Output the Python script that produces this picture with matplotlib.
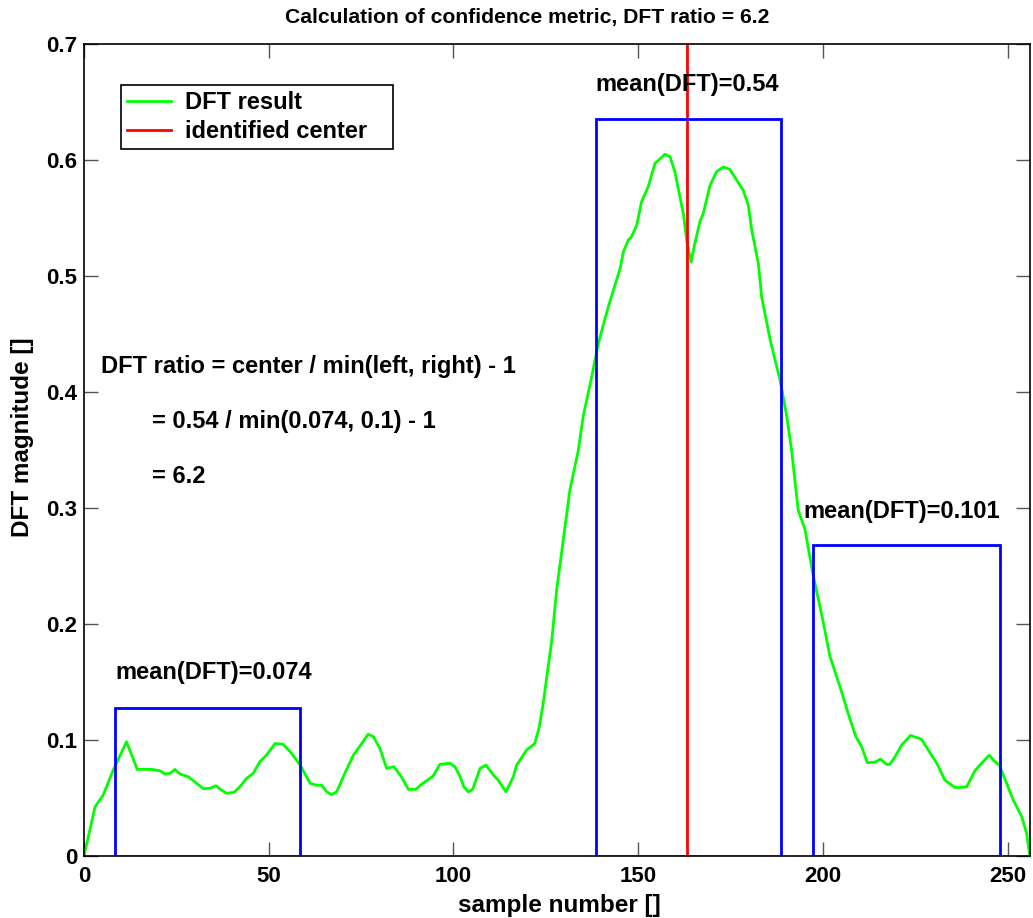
import matplotlib
matplotlib.use('Agg')
import matplotlib.pyplot as plt
from matplotlib.patches import Rectangle

plt.rcParams['font.family'] = ['Liberation Sans', 'DejaVu Sans']
plt.rcParams['font.weight'] = 'bold'

# DFT magnitude
sample = [0, 3.0, 5.2, 7.9, 11.5, 13.3, 14.4, 18.3, 20.6, 21.9, 23.3, 24.6, 26.0, 28.2, 30.0,
          32.3, 34.1, 35.7, 36.8, 38.6, 40.6, 42.2, 44.0, 45.8, 47.6, 49.4, 51.7, 53.9, 56.2,
          58.5, 61.2, 63.0, 64.3, 65.7, 67.0, 68.4, 70.6, 72.9, 74.7, 76.9, 78.3, 80.1, 81.9,
          83.9, 85.9, 87.8, 89.8, 91.4, 94.5, 96.3, 99.0, 100.4, 101.8, 102.8, 104.0, 105.2,
          107.2, 108.8, 110.8, 112.1, 114.2, 116.2, 117.1, 119.8, 122.0, 123.2, 124.3, 126.6,
          127.9, 131.5, 133.8, 135.1, 137.4, 139.2, 141.9, 145.1, 146.0, 147.3, 148.2, 149.6,
          150.9, 152.7, 154.5, 155.9, 157.2, 158.6, 159.9, 162.2, 163.1, 164.3, 165.3, 166.7,
          167.6, 169.4, 171.2, 173.0, 174.8, 176.6, 178.4, 179.8, 180.7, 182.5, 183.4, 185.7,
          188.4, 190.2, 191.5, 193.3, 195.1, 197.4, 199.6, 201.9, 204.9, 206.8, 208.9, 210.5,
          212.0, 214.1, 215.6, 217.2, 218.1, 219.5, 221.3, 223.7, 225.4, 226.7, 228.5, 230.8,
          233.0, 235.7, 238.9, 241.1, 242.9, 245.0, 246.1, 247.7, 249.7, 251.5, 253.8, 255.1,
          256.0]
dft = [0, 0.0425, 0.0526, 0.074, 0.0985, 0.084, 0.0747, 0.0747, 0.0735, 0.0707, 0.0713,
       0.0747, 0.0707, 0.0684, 0.064, 0.058, 0.0584, 0.0606, 0.0578, 0.054, 0.055, 0.0597,
       0.067, 0.0713, 0.0813, 0.087, 0.097, 0.0963, 0.0885, 0.0784, 0.0627, 0.061, 0.0612,
       0.0554, 0.053, 0.0554, 0.0713, 0.087, 0.0948, 0.105, 0.103, 0.0928, 0.0756, 0.077,
       0.0684, 0.0575, 0.0575, 0.062, 0.069, 0.079, 0.080, 0.077, 0.0684, 0.0597, 0.0554,
       0.0575, 0.0756, 0.0784, 0.0698, 0.0655, 0.0554, 0.0684, 0.0784, 0.0914, 0.097, 0.111,
       0.132, 0.186, 0.229, 0.3155, 0.35, 0.379, 0.413, 0.442, 0.4735, 0.5066, 0.521, 0.531,
       0.534, 0.544, 0.564, 0.577, 0.597, 0.601, 0.605, 0.603, 0.590, 0.554, 0.531, 0.512,
       0.528, 0.547, 0.554, 0.578, 0.590, 0.594, 0.592, 0.583, 0.574, 0.561, 0.540, 0.511,
       0.482, 0.445, 0.410, 0.379, 0.350, 0.298, 0.282, 0.241, 0.209, 0.172, 0.143, 0.123,
       0.103, 0.094, 0.0805, 0.081, 0.0836, 0.079, 0.079, 0.0856, 0.0957, 0.104, 0.102,
       0.1006, 0.0914, 0.080, 0.0655, 0.059, 0.0597, 0.0735, 0.080, 0.087, 0.0828, 0.0784,
       0.0627, 0.0483, 0.0339, 0.0196, 0.0]

center = 163.2

# windows: left edge, right edge, height, label
win_left = [8.5, 138.6, 197.4]
win_right = [58.5, 188.6, 247.8]
win_height = [0.128, 0.635, 0.268]
win_label = ['mean(DFT)=0.074', 'mean(DFT)=0.54', 'mean(DFT)=0.101']
label_x = [35.2, 163.3, 221.2]
label_y = [0.158, 0.665, 0.2966]

ratio_lines = ['DFT ratio = center / min(left, right) - 1',
               '= 0.54 / min(0.074, 0.1) - 1',
               '= 6.2']
ratio_x = [4.6, 18.4, 18.4]
ratio_y = [0.4224, 0.375, 0.327]

fig = plt.figure(figsize=(10.33, 9.18), dpi=100)
ax = fig.add_axes([0.0813, 0.0675, 0.9157, 0.8845])

ax.plot(sample, dft, color='#00ff00', lw=2, label='DFT result')
ax.axvline(center, color='#ff0000', lw=2, label='identified center')

for l, r, h in zip(win_left, win_right, win_height):
    ax.add_patch(Rectangle((l, 0), r - l, h, fill=False, edgecolor='#0000ff', lw=2, zorder=3))

for x, y, s in zip(label_x, label_y, win_label):
    ax.text(x, y, s, ha='center', va='center', fontsize=17, fontweight='bold')

for x, y, s in zip(ratio_x, ratio_y, ratio_lines):
    ax.text(x, y, s, ha='left', va='center', fontsize=17, fontweight='bold')

ax.set_xlim(0, 256)
ax.set_ylim(0, 0.7)
ax.set_xticks([0, 50, 100, 150, 200, 250])
ax.set_yticks([0, 0.1, 0.2, 0.3, 0.4, 0.5, 0.6, 0.7])
ax.set_yticklabels(['0', '0.1', '0.2', '0.3', '0.4', '0.5', '0.6', '0.7'])
ax.tick_params(direction='in', length=10, width=1, color='#555555', labelsize=16,
               top=True, right=True)
ax.tick_params(axis='x', pad=7)
ax.tick_params(axis='y', pad=5)
for lab in ax.get_xticklabels() + ax.get_yticklabels():
    lab.set_fontweight('bold')
for sp in ax.spines.values():
    sp.set_linewidth(1.2)

ax.set_xlabel('sample number []', fontsize=17.5, fontweight='bold', va='center')
ax.set_ylabel('DFT magnitude []', fontsize=17.5, fontweight='bold', va='center')
ax.xaxis.set_label_coords(0.503, -0.0605)
ax.yaxis.set_label_coords(-0.0655, 0.516)
fig.text(527 / 1033, 1 - 18 / 918, 'Calculation of confidence metric, DFT ratio = 6.2',
         ha='center', va='center', fontsize=15.2, fontweight='bold')

leg = ax.legend(['DFT result', 'identified center   '], loc='upper left',
                bbox_to_anchor=(0.039, 0.949), fontsize=17,
                fancybox=False, edgecolor='black', framealpha=1, borderaxespad=0,
                handlelength=1.86, handletextpad=0.6, borderpad=0.25, labelspacing=0.23)
leg.get_frame().set_linewidth(1.2)
for t in leg.get_texts():
    t.set_fontweight('bold')

fig.savefig('out.png', dpi=100)
